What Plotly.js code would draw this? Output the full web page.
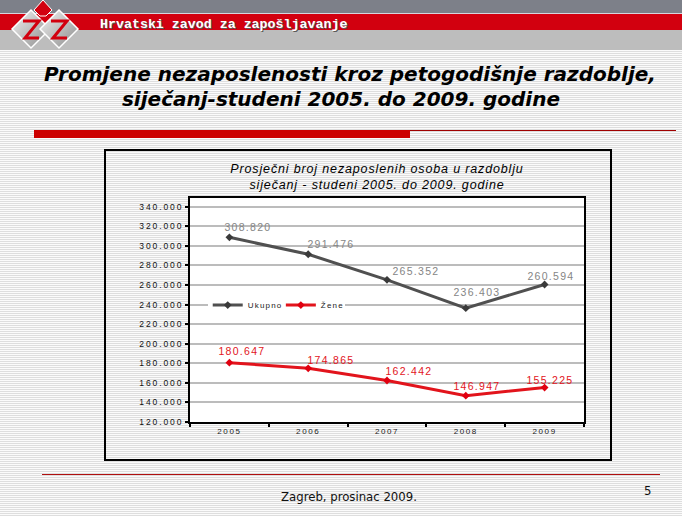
<!DOCTYPE html>
<html>
<head>
<meta charset="utf-8">
<script src="https://cdn.plot.ly/plotly-3.0.1.min.js"></script>
<style>
  html, body { margin:0; padding:0; width:682px; height:516px; overflow:hidden; }
  body { position:relative; font-family:"Liberation Sans", Arial, sans-serif;
         background: repeating-linear-gradient(to bottom, #fbfbfb 0px, #fbfbfb 1px, #dedede 1px, #dedede 2px); }
  .abs { position:absolute; }
  #chart { position:absolute; left:0; top:0; width:682px; height:516px; z-index:5; }
  #chart .xtick text { letter-spacing:1.6px; }
  #chart .ytick text { letter-spacing:1.9px; }
  #chart .annotation-text { letter-spacing:1.3px; }
  #chart .legendtext { letter-spacing:1.2px; }
  #chart .gtitle { letter-spacing:0.85px; }
</style>
</head>
<body>
<!-- header bands -->
<div class="abs" style="left:0;top:0;width:682px;height:13px;background:#7d8089;"></div>
<div class="abs" style="left:0;top:13px;width:682px;height:1px;background:#d6d6de;"></div>
<div class="abs" style="left:0;top:14px;width:682px;height:16px;background:#d2000f;"></div>
<div class="abs" style="left:0;top:30px;width:682px;height:20px;background:#bdbdbd;"></div>
<svg class="abs" style="left:0;top:0;" width="90" height="50">
  <defs>
    <linearGradient id="lg" x1="0" y1="0" x2="1" y2="1">
      <stop offset="0" stop-color="#f4f4f4"/><stop offset="1" stop-color="#8a8a8a"/>
    </linearGradient>
  </defs>
  <polygon points="31,10 50,29 31,48 12,29" fill="url(#lg)" stroke="#ffffff" stroke-width="1.5"/>
  <polygon points="59,10 78,29 59,48 40,29" fill="url(#lg)" stroke="#ffffff" stroke-width="1.5"/>
  <polygon points="43,0 52,10 46,16 40,16 34,10" fill="#d2000f" stroke="#ffffff" stroke-width="1"/>
  <polyline points="23,21 39,21 25,38 39,38" fill="none" stroke="#d2000f" stroke-width="3"/>
  <polyline points="51,21 67,21 53,38 67,38" fill="none" stroke="#d2000f" stroke-width="3"/>
</svg>
<div class="abs" style="left:100px;top:17px;font-family:'Liberation Mono','DejaVu Sans Mono',monospace;font-weight:bold;font-size:13.3px;color:#ffffff;text-shadow:1px 1px 0 #5a5a5a;white-space:nowrap;">Hrvatski zavod za zapošljavanje</div>

<!-- slide title -->
<div class="abs" style="left:0;top:62px;width:700px;text-align:center;font-family:'DejaVu Sans',sans-serif;font-weight:bold;font-style:italic;font-size:20px;color:#000;white-space:nowrap;">Promjene nezaposlenosti kroz petogodišnje razdoblje,</div>
<div class="abs" style="left:0;top:87px;width:682px;text-align:center;font-family:'DejaVu Sans',sans-serif;font-weight:bold;font-style:italic;font-size:20px;color:#000;white-space:nowrap;">siječanj-studeni 2005. do 2009. godine</div>

<!-- red bars -->
<div class="abs" style="left:34px;top:130px;width:376px;height:8px;background:#cc0000;"></div>
<div class="abs" style="left:410px;top:130px;width:266px;height:1px;background:#a00000;"></div>

<!-- chart frame -->
<div class="abs" style="left:104px;top:149px;width:508px;height:312px;border:2px solid #000;box-sizing:border-box;"></div>

<!-- footer -->
<div class="abs" style="left:42px;top:474px;width:618px;height:1px;background:#b01010;"></div>
<div class="abs" style="left:0;top:489px;width:698px;text-align:center;font-family:'DejaVu Sans Condensed','DejaVu Sans',sans-serif;font-size:13px;color:#111;">Zagreb, prosinac 2009.</div>
<div class="abs" style="left:644px;top:483px;font-family:'DejaVu Sans Condensed','DejaVu Sans',sans-serif;font-size:13px;color:#111;">5</div>

<div id="chart"></div>

<script>
// ---- data ----
const years = ['2005', '2006', '2007', '2008', '2009'];
const ukupno = [308820, 291476, 265352, 236403, 260594];
const zene = [180647, 174865, 162442, 146947, 155225];
const seriesNames = ['Ukupno', 'Žene'];
const yTicks = [120000, 140000, 160000, 180000, 200000, 220000, 240000, 260000, 280000, 300000, 320000, 340000];

// label offsets (pixels: right, up)
const shiftU = [[19, 10], [23, 10], [29, 9], [11, 16], [6, 8]];
const shiftZ = [[13, 12], [23, 8], [22, 9], [11, 10], [5, 8]];

function fmt(v) { return String(v).replace(/\B(?=(\d{3})+(?!\d))/g, '.'); }

const grayLine = '#505050', redLine = '#e2141c';

const traces = [
  { x: years, y: ukupno, name: seriesNames[0], type: 'scatter', mode: 'lines+markers',
    line: { color: grayLine, width: 3 }, marker: { symbol: 'diamond', size: 6, color: '#3a3a3a' } },
  { x: years, y: zene, name: seriesNames[1], type: 'scatter', mode: 'lines+markers',
    line: { color: redLine, width: 3 }, marker: { symbol: 'diamond', size: 6, color: '#e00010' } }
];

const annotations = [];
years.forEach((yr, i) => {
  annotations.push({ x: i, y: ukupno[i], xref: 'x', yref: 'y', text: fmt(ukupno[i]), showarrow: false,
    xshift: shiftU[i][0], yshift: shiftU[i][1], font: { family: 'Liberation Sans, Arial', size: 10.5, color: '#858585' } });
  annotations.push({ x: i, y: zene[i], xref: 'x', yref: 'y', text: fmt(zene[i]), showarrow: false,
    xshift: shiftZ[i][0], yshift: shiftZ[i][1], font: { family: 'Liberation Sans, Arial', size: 10.5, color: '#e2141c' } });
});

const layout = {
  width: 682, height: 516,
  margin: { l: 190, r: 98, t: 198, b: 94 },
  paper_bgcolor: 'rgba(0,0,0,0)',
  plot_bgcolor: '#ffffff',
  separators: ',.',
  showlegend: true,
  title: {
    text: 'Prosječni broj nezaposlenih osoba u razdoblju<br>siječanj - studeni 2005. do 2009. godine',
    font: { family: 'Liberation Sans, Arial', size: 12.5, color: '#000', style: 'italic' },
    x: 377 / 682, xanchor: 'center', xref: 'container',
    y: 1 - 173 / 516, yanchor: 'middle', yref: 'container'
  },
  xaxis: {
    type: 'category', range: [-0.5, 4.5], tickson: 'boundaries',
    showline: true, linecolor: '#000', linewidth: 2, mirror: true,
    ticks: 'outside', ticklen: 3, tickcolor: '#000', tickwidth: 2,
    showgrid: false, tickfont: { family: 'Liberation Sans, Arial', size: 8, color: '#222' }
  },
  yaxis: {
    range: [120000, 349000], tickvals: yTicks, tickformat: ',d',
    showline: true, linecolor: '#000', linewidth: 2, mirror: true,
    ticks: 'outside', ticklen: 3, tickcolor: '#000', tickwidth: 2,
    showgrid: true, gridcolor: '#bcbcbc', gridwidth: 2, zeroline: false,
    tickfont: { family: 'Liberation Sans, Arial', size: 8.5, color: '#111' }
  },
  legend: {
    orientation: 'h', x: 0.045, y: 0.522, xanchor: 'left', yanchor: 'middle',
    bgcolor: '#ffffff', borderwidth: 0, itemwidth: 30,
    font: { family: 'Liberation Sans, Arial', size: 8, color: '#222' }
  },
  annotations: annotations
};

Plotly.newPlot('chart', traces, layout, { displayModeBar: false, staticPlot: true });
</script>
</body>
</html>
